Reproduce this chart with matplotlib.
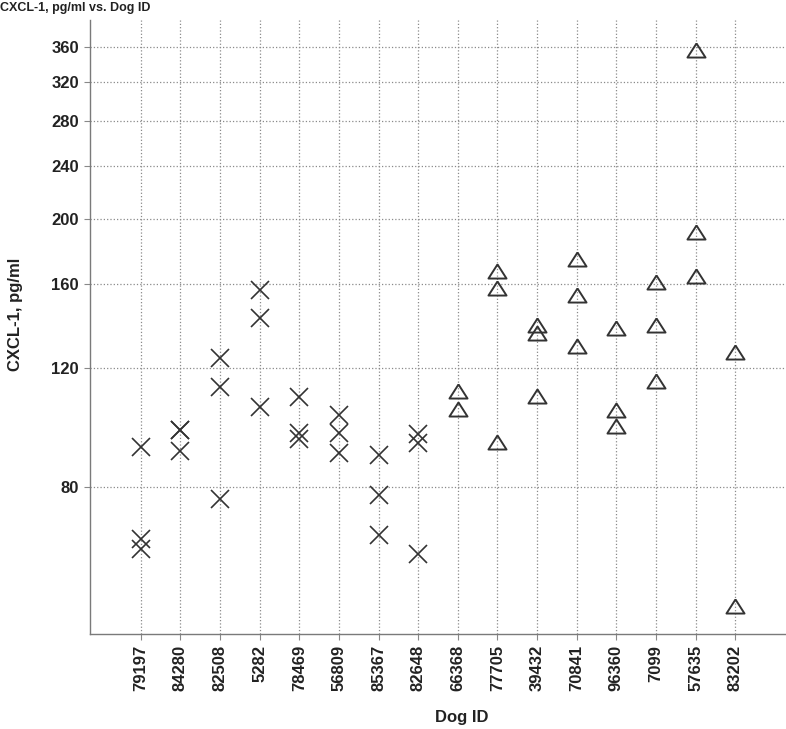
import matplotlib
matplotlib.use("Agg")
import matplotlib.pyplot as plt
from matplotlib.ticker import FixedLocator, NullLocator, FixedFormatter

dog_ids = ["79197", "84280", "82508", "5282", "78469", "56809", "85367", "82648",
           "66368", "77705", "39432", "70841", "96360", "7099", "57635", "83202"]

# first eight dogs, drawn as crosses
cross_values = [
    [91.7, 66.8, 64.5],
    [97.1, 97.1, 90.3],
    [124.1, 112.4, 76.7],
    [156.8, 142.6, 105.0],
    [108.8, 96.1, 94.1],
    [102.2, 96.2, 89.6],
    [89.1, 77.7, 67.7],
    [95.7, 92.9, 63.6],
]

# last eight dogs, drawn as triangles
triangle_values = [
    [111.0, 104.3],
    [167.2, 157.7, 93.2],
    [139.2, 135.3, 108.9],
    [174.5, 154.3, 129.3],
    [137.7, 103.8, 98.3],
    [161.0, 138.9, 114.8],
    [357.0, 191.5, 164.3],
    [126.8, 53.1],
]

y_ticks = [80, 120, 160, 200, 240, 280, 320, 360]

plt.rcParams["font.family"] = ["Liberation Sans", "DejaVu Sans"]

fig = plt.figure(figsize=(7.86, 7.29), dpi=100)
ax = fig.add_axes([90 / 786, 1 - 634 / 729, 696 / 786, 614 / 729])

ink = "#333333"
tri_marker = [(0, 0.78), (-1, -0.78), (1, -0.78), (0, 0.78)]

for i, vals in enumerate(cross_values):
    ax.plot([i] * len(vals), vals, linestyle="none", marker="x", markersize=13,
            markeredgewidth=1.2, color=ink, zorder=3)

offset = len(cross_values)
for j, vals in enumerate(triangle_values):
    ax.plot([offset + j] * len(vals), vals, linestyle="none", marker=tri_marker,
            markersize=13, markeredgewidth=1.4, markerfacecolor="none",
            markeredgecolor=ink, zorder=3)

ax.set_yscale("log")
ax.set_ylim(48.3, 395)
ax.set_xlim(-1.28, len(dog_ids) - 1 + 1.28)

ax.yaxis.set_major_locator(FixedLocator(y_ticks))
ax.yaxis.set_major_formatter(FixedFormatter([str(t) for t in y_ticks]))
ax.yaxis.set_minor_locator(NullLocator())

ax.set_xticks(range(len(dog_ids)))
ax.set_xticklabels(dog_ids, rotation=90, fontsize=12, fontweight="bold", color="#222222")
for lab in ax.get_yticklabels():
    lab.set_fontsize(12)
    lab.set_fontweight("bold")
    lab.set_color("#222222")

ax.tick_params(axis="both", length=4, width=0.8, color="#888888", pad=4)

ax.grid(True, which="major", linestyle=":", linewidth=0.9, color="#8a8a8a")
ax.set_axisbelow(True)

for side in ("top", "right"):
    ax.spines[side].set_visible(False)
for side in ("left", "bottom"):
    ax.spines[side].set_color("#7a7a7a")
    ax.spines[side].set_linewidth(1.0)

ax.set_ylabel("CXCL-1, pg/ml", fontsize=12, fontweight="bold", color="#222222")
ax.set_xlabel("Dog ID", fontsize=12, fontweight="bold", color="#222222")
ax.yaxis.set_label_coords(-0.096, 0.52)
ax.xaxis.set_label_coords(0.534, -0.124)

fig.text(0.0, 1 - 8 / 729, "CXCL-1, pg/ml vs. Dog ID", fontsize=9,
         fontweight="bold", ha="left", va="center", color="#222222")

fig.savefig("out.png", dpi=100)
